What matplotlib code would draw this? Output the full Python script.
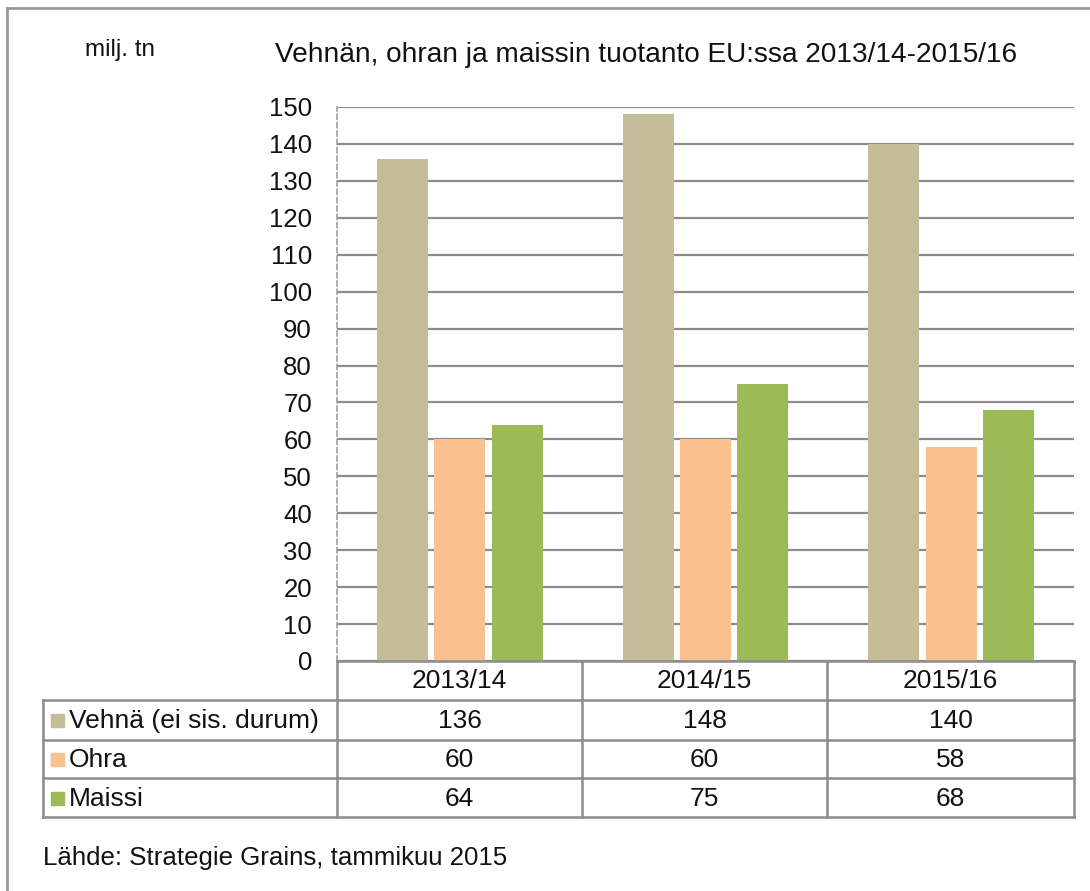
import matplotlib
matplotlib.use("Agg")
import matplotlib.pyplot as plt
from matplotlib.patches import Rectangle
from matplotlib.lines import Line2D

plt.rcParams['font.family'] = ['Liberation Sans', 'DejaVu Sans']

categories = ["2013/14", "2014/15", "2015/16"]
series_names = ["Vehnä (ei sis. durum)", "Ohra", "Maissi"]
vehna = [136, 148, 140]
ohra = [60, 60, 58]
maissi = [64, 75, 68]
colors = ["#C4BD97", "#FAC090", "#9BBB59"]
yticks = list(range(0, 151, 10))
title = "Vehnän, ohran ja maissin tuotanto EU:ssa 2013/14-2015/16"
unit = "milj. tn"
source = "Lähde: Strategie Grains, tammikuu 2015"

W, H = 1090, 891
fig = plt.figure(figsize=(W / 100, H / 100), dpi=100)

def fx(px):
    return px / W

def fy(py):
    return 1 - py / H

# plot area in pixels
L, R, T, B = 337, 1074, 107, 661
ax = fig.add_axes([fx(L), fy(B), fx(R - L), (B - T) / H])
ax.set_xlim(0, 3)
ax.set_ylim(0, 150)

series = [vehna, ohra, maissi]
bw = 0.208
step = 0.233
for i, (vals, c) in enumerate(zip(series, colors)):
    xs = [k + 0.5 + (i - 1) * step for k in range(len(categories))]
    ax.bar(xs, vals, width=bw, color=c, edgecolor='none', zorder=3)

ax.set_yticks(yticks)
ax.set_yticklabels([str(t) for t in yticks], fontsize=18.5, color='#111111')
ax.tick_params(axis='y', length=0, pad=18)
ax.tick_params(axis='x', length=0, labelbottom=False)
ax.grid(axis='y', color='#8c8c8c', linewidth=1.6, zorder=0)
for s in ['top', 'right', 'bottom']:
    ax.spines[s].set_visible(False)
ax.spines['left'].set_color('#a0a0a0')
ax.spines['left'].set_linestyle((0, (3, 2)))
ax.spines['left'].set_linewidth(1.2)

# table lines
lc = '#8c8c8c'
lw = 1.8
cols = [337, 582, 827, 1074]
rows = [661, 700, 740, 778, 817]
def hline(y, x0, x1):
    fig.add_artist(Line2D([fx(x0), fx(x1)], [fy(y), fy(y)], color=lc, lw=lw))
def vline(x, y0, y1):
    fig.add_artist(Line2D([fx(x), fx(x)], [fy(y0), fy(y1)], color=lc, lw=lw))

hline(rows[0], cols[0], cols[-1])
for y in rows[1:]:
    hline(y, 43, cols[-1])
for x in cols:
    vline(x, rows[0], rows[-1])
vline(43, rows[1], rows[-1])

tc = '#111111'
fs_tab = 19
for j, cat in enumerate(categories):
    xc = (cols[j] + cols[j + 1]) / 2
    fig.text(fx(xc), fy((rows[0] + rows[1]) / 2 + 1), cat, ha='center', va='center',
             fontsize=fs_tab, color=tc)
for i, (name, vals, c) in enumerate(zip(series_names, series, colors)):
    yc = (rows[i + 1] + rows[i + 2]) / 2 + 1
    fig.add_artist(Rectangle((fx(51), fy(yc + 6)), fx(13), 13 / H, color=c))
    fig.text(fx(69), fy(yc), name, ha='left', va='center', fontsize=fs_tab, color=tc)
    for j, v in enumerate(vals):
        xc = (cols[j] + cols[j + 1]) / 2
        fig.text(fx(xc), fy(yc), str(v), ha='center', va='center', fontsize=fs_tab, color=tc)

fig.text(fx(275), fy(55), title, ha='left', va='center', fontsize=20.2, color=tc)
fig.text(fx(85), fy(50), unit, ha='left', va='center', fontsize=17.5, color=tc)
fig.text(fx(43), fy(858), source, ha='left', va='center', fontsize=18.6, color=tc)

# figure border
fig.add_artist(Line2D([fx(7), fx(1090)], [fy(8), fy(8)], color='#9a9a9a', lw=2))
fig.add_artist(Line2D([fx(7), fx(7)], [fy(8), fy(891)], color='#9a9a9a', lw=2))

fig.savefig("out.png", dpi=100)
